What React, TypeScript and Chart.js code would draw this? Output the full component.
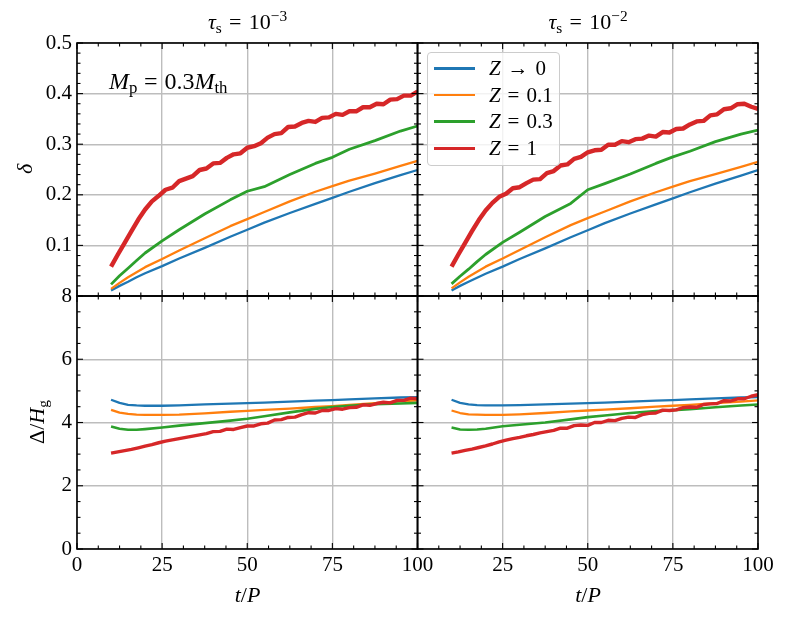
import React, { useEffect, useRef } from 'react';
import { Chart, registerables } from 'chart.js';

Chart.register(...registerables);

// ---------- data ----------
const T_SMOOTH = [10, 12.5, 15, 17.5, 20, 25, 30, 37.5, 45, 50, 55, 62.5, 70, 75, 80, 87.5, 95, 100];
const T_NOISY = [10, 12, 14, 16, 18, 20, 22, 24, 26, 28, 30, 32, 34, 36, 38, 40, 42, 44, 46, 48, 50, 52, 54, 56, 58, 60, 62, 64, 66, 68, 70, 72, 74, 76, 78, 80, 82, 84, 86, 88, 90, 92, 94, 96, 98, 100];

const SERIES_LABELS = ['Z → 0', 'Z = 0.1', 'Z = 0.3', 'Z = 1'];

// delta, tau_s = 1e-3
const TL_Z0 = [0.011, 0.020, 0.028, 0.037, 0.045, 0.059, 0.074, 0.095, 0.117, 0.131, 0.145, 0.164, 0.182, 0.194, 0.206, 0.223, 0.239, 0.249];
const TL_Z01 = [0.014, 0.026, 0.037, 0.047, 0.057, 0.073, 0.090, 0.114, 0.138, 0.152, 0.166, 0.187, 0.206, 0.217, 0.228, 0.242, 0.257, 0.267];
const TL_Z03 = [0.023, 0.040, 0.055, 0.070, 0.085, 0.109, 0.131, 0.162, 0.190, 0.207, 0.216, 0.240, 0.262, 0.274, 0.290, 0.307, 0.326, 0.336];
const TL_Z1 = [0.058, 0.082, 0.105, 0.128, 0.151, 0.171, 0.187, 0.198, 0.210, 0.214, 0.227, 0.232, 0.237, 0.249, 0.252, 0.262, 0.263, 0.273, 0.280, 0.282, 0.293, 0.296, 0.302, 0.313, 0.320, 0.322, 0.334, 0.335, 0.342, 0.346, 0.344, 0.352, 0.353, 0.360, 0.358, 0.365, 0.365, 0.373, 0.373, 0.380, 0.379, 0.388, 0.389, 0.396, 0.396, 0.404];

// delta, tau_s = 1e-2
const TR_Z0 = [0.011, 0.020, 0.028, 0.036, 0.044, 0.058, 0.073, 0.094, 0.116, 0.130, 0.144, 0.163, 0.181, 0.193, 0.205, 0.222, 0.238, 0.249];
const TR_Z01 = [0.015, 0.027, 0.038, 0.048, 0.058, 0.074, 0.091, 0.116, 0.140, 0.154, 0.167, 0.187, 0.205, 0.216, 0.227, 0.241, 0.255, 0.265];
const TR_Z03 = [0.024, 0.039, 0.053, 0.068, 0.082, 0.106, 0.126, 0.157, 0.183, 0.210, 0.222, 0.241, 0.262, 0.275, 0.286, 0.305, 0.320, 0.328];
const TR_Z1 = [0.058, 0.082, 0.105, 0.128, 0.150, 0.169, 0.184, 0.196, 0.202, 0.213, 0.215, 0.223, 0.230, 0.231, 0.243, 0.247, 0.258, 0.260, 0.271, 0.275, 0.284, 0.288, 0.289, 0.299, 0.299, 0.306, 0.304, 0.310, 0.311, 0.317, 0.315, 0.324, 0.323, 0.330, 0.331, 0.339, 0.345, 0.346, 0.357, 0.359, 0.369, 0.371, 0.379, 0.380, 0.374, 0.370];

// Delta / H_g, tau_s = 1e-3
const BL_Z0 = [4.72, 4.62, 4.56, 4.54, 4.53, 4.53, 4.54, 4.57, 4.60, 4.61, 4.63, 4.66, 4.69, 4.71, 4.73, 4.76, 4.79, 4.80];
const BL_Z01 = [4.40, 4.31, 4.27, 4.25, 4.24, 4.24, 4.25, 4.29, 4.34, 4.37, 4.40, 4.44, 4.49, 4.52, 4.56, 4.61, 4.67, 4.70];
const BL_Z03 = [3.87, 3.80, 3.77, 3.77, 3.79, 3.84, 3.90, 3.98, 4.06, 4.12, 4.20, 4.32, 4.43, 4.49, 4.53, 4.58, 4.60, 4.62];
const BL_Z1 = [3.03, 3.07, 3.11, 3.15, 3.20, 3.25, 3.30, 3.36, 3.41, 3.45, 3.49, 3.53, 3.57, 3.61, 3.65, 3.71, 3.72, 3.79, 3.78, 3.84, 3.89, 3.89, 3.96, 3.98, 4.08, 4.09, 4.16, 4.17, 4.25, 4.31, 4.30, 4.38, 4.38, 4.44, 4.42, 4.47, 4.48, 4.56, 4.54, 4.60, 4.64, 4.62, 4.70, 4.70, 4.77, 4.75];

// Delta / H_g, tau_s = 1e-2
const BR_Z0 = [4.72, 4.62, 4.57, 4.55, 4.54, 4.54, 4.55, 4.57, 4.60, 4.61, 4.63, 4.66, 4.69, 4.71, 4.73, 4.76, 4.79, 4.80];
const BR_Z01 = [4.38, 4.30, 4.26, 4.25, 4.24, 4.24, 4.26, 4.30, 4.35, 4.38, 4.41, 4.45, 4.50, 4.53, 4.56, 4.61, 4.66, 4.70];
const BR_Z03 = [3.84, 3.78, 3.77, 3.78, 3.80, 3.88, 3.93, 4.00, 4.10, 4.17, 4.22, 4.30, 4.36, 4.39, 4.42, 4.48, 4.54, 4.57];
const BR_Z1 = [3.03, 3.07, 3.12, 3.16, 3.21, 3.26, 3.32, 3.39, 3.44, 3.49, 3.53, 3.58, 3.62, 3.67, 3.71, 3.75, 3.82, 3.82, 3.90, 3.92, 3.91, 4.00, 4.00, 4.07, 4.06, 4.13, 4.17, 4.16, 4.25, 4.29, 4.30, 4.39, 4.38, 4.40, 4.47, 4.49, 4.48, 4.57, 4.59, 4.60, 4.69, 4.68, 4.75, 4.75, 4.83, 4.88];

// tick values
const X_TICKS = [0, 25, 50, 75, 100];
const DELTA_TICKS = [0, 0.1, 0.2, 0.3, 0.4, 0.5];
const WIDTH_TICKS = [0, 2, 4, 6, 8];

// ---------- styles ----------
const COLORS = ['#1f77b4', '#ff7f0e', '#2ca02c', '#d62728'];
const FONT = '"Liberation Serif", "DejaVu Serif", serif';
const MAJOR: Record<string, number> = { xL: 25, xR: 25, yT: 0.1, yB: 2 };
const MINOR: Record<string, number> = { xL: 6.25, xR: 6.25, yT: 0.02, yB: 0.5 };
const PANELS: [string, string][] = [['xL', 'yT'], ['xR', 'yT'], ['xL', 'yB'], ['xR', 'yB']];

const pts = (t: number[], v: number[]) => v.map((y, i) => ({ x: t[i], y }));

const framePlugin = {
  id: 'panelFrames',
  afterDatasetsDraw(chart: any) {
    const ctx = chart.ctx as CanvasRenderingContext2D;
    ctx.save();
    ctx.strokeStyle = '#000';
    const seg = (x1: number, y1: number, x2: number, y2: number) => {
      ctx.beginPath();
      ctx.moveTo(x1, y1);
      ctx.lineTo(x2, y2);
      ctx.stroke();
    };
    for (const [xi, yi] of PANELS) {
      const xs = chart.scales[xi];
      const ys = chart.scales[yi];
      const l = xs.left, r = xs.right, t = ys.top, b = ys.bottom;
      ctx.lineWidth = 1.1;
      const xm = MINOR[xi];
      for (let k = 0; xs.min + k * xm <= xs.max + 1e-9; k++) {
        const v = xs.min + k * xm;
        const q = v / MAJOR[xi];
        const len = Math.abs(q - Math.round(q)) < 1e-6 ? 6 : 3.5;
        const p = xs.getPixelForValue(v);
        seg(p, b, p, b - len);
        seg(p, t, p, t + len);
      }
      const ym = MINOR[yi];
      for (let k = 0; ys.min + k * ym <= ys.max + 1e-9; k++) {
        const v = ys.min + k * ym;
        const q = v / MAJOR[yi];
        const len = Math.abs(q - Math.round(q)) < 1e-6 ? 6 : 3.5;
        const p = ys.getPixelForValue(v);
        seg(l, p, l + len, p);
        seg(r, p, r - len, p);
      }
      ctx.lineWidth = 1.6;
      ctx.strokeRect(l, t, r - l, b - t);
    }
    ctx.restore();
  },
};

const gridOpts = { color: '#bdbdbd', lineWidth: 1.4, drawTicks: false };
const tickFont = { family: FONT, size: 21 };

function line(label: string, data: any[], color: string, width: number, xAxisID: string, yAxisID: string, order: number) {
  return {
    label,
    data,
    borderColor: color,
    backgroundColor: color,
    borderWidth: width,
    borderJoinStyle: 'round',
    pointRadius: 0,
    fill: false,
    tension: 0,
    xAxisID,
    yAxisID,
    order,
  };
}

const sub = (s: string) => <span style={{ fontSize: '0.7em', verticalAlign: '-0.25em', fontStyle: 'normal', lineHeight: 0 }}>{s}</span>;
const sup = (s: string) => <span style={{ fontSize: '0.7em', verticalAlign: '0.55em', lineHeight: 0 }}>{s}</span>;
const eq = <span style={{ margin: '0 0.33em' }}>=</span>;

export default function App() {
  const ref = useRef<HTMLCanvasElement | null>(null);

  useEffect(() => {
    if (!ref.current) return;
    const datasets = [
      line(SERIES_LABELS[0], pts(T_SMOOTH, TL_Z0), COLORS[0], 2.3, 'xL', 'yT', 3),
      line(SERIES_LABELS[1], pts(T_SMOOTH, TL_Z01), COLORS[1], 2.3, 'xL', 'yT', 2),
      line(SERIES_LABELS[2], pts(T_SMOOTH, TL_Z03), COLORS[2], 2.8, 'xL', 'yT', 1),
      line(SERIES_LABELS[3], pts(T_NOISY, TL_Z1), COLORS[3], 4.4, 'xL', 'yT', 0),
      line(SERIES_LABELS[0], pts(T_SMOOTH, TR_Z0), COLORS[0], 2.3, 'xR', 'yT', 3),
      line(SERIES_LABELS[1], pts(T_SMOOTH, TR_Z01), COLORS[1], 2.3, 'xR', 'yT', 2),
      line(SERIES_LABELS[2], pts(T_SMOOTH, TR_Z03), COLORS[2], 2.8, 'xR', 'yT', 1),
      line(SERIES_LABELS[3], pts(T_NOISY, TR_Z1), COLORS[3], 4.4, 'xR', 'yT', 0),
      line(SERIES_LABELS[0], pts(T_SMOOTH, BL_Z0), COLORS[0], 2.3, 'xL', 'yB', 3),
      line(SERIES_LABELS[1], pts(T_SMOOTH, BL_Z01), COLORS[1], 2.3, 'xL', 'yB', 2),
      line(SERIES_LABELS[2], pts(T_SMOOTH, BL_Z03), COLORS[2], 2.6, 'xL', 'yB', 1),
      line(SERIES_LABELS[3], pts(T_NOISY, BL_Z1), COLORS[3], 3.4, 'xL', 'yB', 0),
      line(SERIES_LABELS[0], pts(T_SMOOTH, BR_Z0), COLORS[0], 2.3, 'xR', 'yB', 3),
      line(SERIES_LABELS[1], pts(T_SMOOTH, BR_Z01), COLORS[1], 2.3, 'xR', 'yB', 2),
      line(SERIES_LABELS[2], pts(T_SMOOTH, BR_Z03), COLORS[2], 2.6, 'xR', 'yB', 1),
      line(SERIES_LABELS[3], pts(T_NOISY, BR_Z1), COLORS[3], 3.4, 'xR', 'yB', 0),
    ];

    const chart = new Chart(ref.current, {
      type: 'line',
      data: { datasets } as any,
      plugins: [framePlugin],
      options: {
        animation: false,
        responsive: false,
        devicePixelRatio: 1,
        layout: { padding: { top: 43, right: 31, left: 0, bottom: 0 } },
        plugins: { legend: { display: false }, tooltip: { enabled: false }, title: { display: false } },
        scales: {
          xL: {
            type: 'linear', position: 'bottom', stack: 'cols', stackWeight: 1, weight: 1,
            min: 0, max: 100,
            afterBuildTicks: (s: any) => { s.ticks = X_TICKS.map((v) => ({ value: v })); },
            afterFit: (s: any) => { s.height = 72; },
            grid: gridOpts, border: { display: false },
            ticks: { autoSkip: false, maxRotation: 0, padding: 4, color: '#000', font: tickFont, callback: (v: any) => String(v) },
          },
          xR: {
            type: 'linear', position: 'bottom', stack: 'cols', stackWeight: 1, weight: 2,
            min: 0, max: 100,
            afterBuildTicks: (s: any) => { s.ticks = X_TICKS.map((v) => ({ value: v })); },
            afterFit: (s: any) => { s.height = 72; },
            grid: gridOpts, border: { display: false },
            ticks: { autoSkip: false, maxRotation: 0, padding: 4, color: '#000', font: tickFont, callback: (v: any) => (v === 0 ? '' : String(v)) },
          },
          yT: {
            type: 'linear', position: 'left', stack: 'rows', stackWeight: 1, weight: 2,
            min: 0, max: 0.5,
            afterBuildTicks: (s: any) => { s.ticks = DELTA_TICKS.map((v) => ({ value: v })); },
            afterFit: (s: any) => { s.width = 77; },
            grid: gridOpts, border: { display: false },
            ticks: { autoSkip: false, padding: 5, color: '#000', font: tickFont, callback: (v: any) => (v === 0 ? '' : Number(v).toFixed(1)) },
          },
          yB: {
            type: 'linear', position: 'left', stack: 'rows', stackWeight: 1, weight: 1,
            min: 0, max: 8,
            afterBuildTicks: (s: any) => { s.ticks = WIDTH_TICKS.map((v) => ({ value: v })); },
            afterFit: (s: any) => { s.width = 77; },
            grid: gridOpts, border: { display: false },
            ticks: { autoSkip: false, padding: 5, color: '#000', font: tickFont, callback: (v: any) => String(v) },
          },
        },
      } as any,
    });
    return () => chart.destroy();
  }, []);

  const text: React.CSSProperties = { position: 'absolute', fontFamily: FONT, fontSize: 21, color: '#000', whiteSpace: 'nowrap', lineHeight: '24px' };
  const rot = (cx: number, cy: number): React.CSSProperties => ({ ...text, fontSize: 22, left: cx, top: cy, transform: 'translate(-50%, -50%) rotate(-90deg)' });

  return (
    <div style={{ position: 'absolute', left: 0, top: 0, width: 789, height: 621, background: '#fff', overflow: 'hidden' }}>
      <canvas ref={ref} width={789} height={621} style={{ position: 'absolute', left: 0, top: 0, width: 789, height: 621 }} />

      <div style={{ ...text, fontSize: 22, left: 77, width: 341, top: 10, textAlign: 'center' }}>
        <i>τ</i>{sub('s')}{eq}10{sup('−3')}
      </div>
      <div style={{ ...text, fontSize: 22, left: 418, width: 340, top: 10, textAlign: 'center' }}>
        <i>τ</i>{sub('s')}{eq}10{sup('−2')}
      </div>

      <div style={{ ...text, fontSize: 24, left: 109, top: 69 }}>
        <i>M</i>{sub('p')}<span style={{ margin: '0 0.28em' }}>=</span>0.3<i>M</i>{sub('th')}
      </div>

      <div style={rot(25, 169)}><i>δ</i></div>
      <div style={rot(37, 422)}>Δ/<i>H</i>{sub('g')}</div>

      <div style={{ ...text, fontSize: 22, left: 77, width: 341, top: 583, textAlign: 'center' }}><i>t</i>/<i>P</i></div>
      <div style={{ ...text, fontSize: 22, left: 418, width: 340, top: 583, textAlign: 'center' }}><i>t</i>/<i>P</i></div>

      <div style={{ position: 'absolute', left: 427, top: 52, width: 131, height: 110, border: '1px solid #cccccc', borderRadius: 4, background: 'rgba(255,255,255,0.8)', paddingTop: 2, boxSizing: 'content-box' }}>
        {SERIES_LABELS.map((lab, i) => (
          <div key={lab} style={{ position: 'relative', height: 26.7 }}>
            <div style={{ position: 'absolute', left: 6, top: 12, width: 41, height: 2.6, background: COLORS[i] }} />
            <div style={{ ...text, left: 61, top: 1 }}>
              <i>{lab.charAt(0)}</i>{lab.slice(1, 2)}<span style={{ margin: '0 0.08em' }}>{lab.slice(2, 3)}</span>{lab.slice(3)}
            </div>
          </div>
        ))}
      </div>
    </div>
  );
}
